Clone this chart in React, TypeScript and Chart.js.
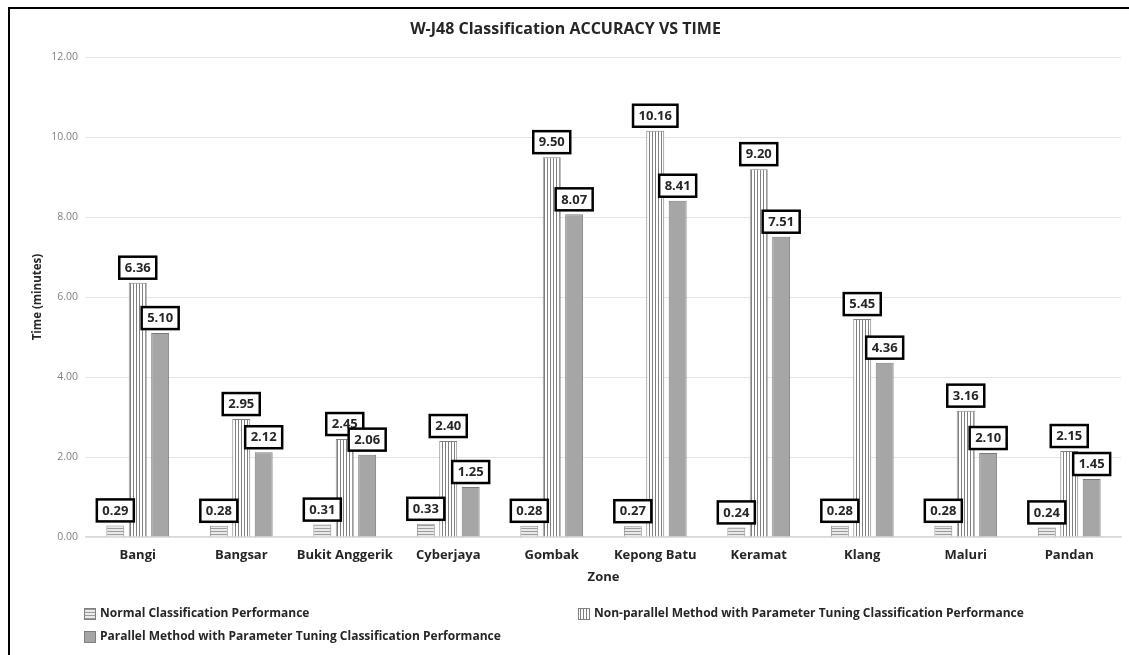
import React, { useEffect, useRef } from "react";
import { Chart, registerables } from "chart.js";

Chart.register(...registerables);

const zones = [
  "Bangi",
  "Bangsar",
  "Bukit Anggerik",
  "Cyberjaya",
  "Gombak",
  "Kepong Batu",
  "Keramat",
  "Klang",
  "Maluri",
  "Pandan",
];
const normalValues = [0.29, 0.28, 0.31, 0.33, 0.28, 0.27, 0.24, 0.28, 0.28, 0.24];
const nonParallelValues = [6.36, 2.95, 2.45, 2.4, 9.5, 10.16, 9.2, 5.45, 3.16, 2.15];
const parallelValues = [5.1, 2.12, 2.06, 1.25, 8.07, 8.41, 7.51, 4.36, 2.1, 1.45];
const seriesNames = [
  "Normal Classification Performance",
  "Non-parallel Method with Parameter Tuning Classification Performance",
  "Parallel Method with Parameter Tuning Classification Performance",
];
const chartTitle = "W-J48 Classification ACCURACY VS TIME";
const yAxisTitle = "Time (minutes)";
const xAxisTitle = "Zone";

const FONT = "'Open Sans', 'DejaVu Sans', sans-serif";
const TEXT = "#262626";

function makePattern(kind: "h" | "v"): CanvasPattern | string {
  const c = document.createElement("canvas");
  const ctx = c.getContext("2d");
  if (!ctx) return "#cccccc";
  if (kind === "h") {
    c.width = 4;
    c.height = 3;
    ctx.fillStyle = "#e9e9e9";
    ctx.fillRect(0, 0, 4, 3);
    ctx.fillStyle = "#9c9c9c";
    ctx.fillRect(0, 0, 4, 1);
  } else {
    c.width = 3;
    c.height = 4;
    ctx.fillStyle = "#ffffff";
    ctx.fillRect(0, 0, 3, 4);
    ctx.fillStyle = "#808080";
    ctx.fillRect(0, 0, 1, 4);
  }
  return ctx.createPattern(c, "repeat") || "#cccccc";
}

const labelBoxPlugin = {
  id: "labelBoxes",
  afterDatasetsDraw(chart: any) {
    const ctx = chart.ctx;
    ctx.save();
    ctx.font = `bold 13px ${FONT}`;
    ctx.textAlign = "center";
    ctx.textBaseline = "middle";
    chart.data.datasets.forEach((ds: any, di: number) => {
      const meta = chart.getDatasetMeta(di);
      meta.data.forEach((bar: any, i: number) => {
        const v = ds.data[i] as number;
        const txt = v.toFixed(2);
        const w = ctx.measureText(txt).width + 11;
        const h = 22;
        const bottom = bar.y - 4;
        const x = bar.x - w / 2;
        const y = bottom - h;
        ctx.fillStyle = "#ffffff";
        ctx.fillRect(x, y, w, h);
        ctx.lineWidth = 2.5;
        ctx.strokeStyle = "#000000";
        ctx.strokeRect(x, y, w, h);
        ctx.fillStyle = TEXT;
        ctx.fillText(txt, bar.x, y + h / 2 + 0.5);
      });
    });
    ctx.restore();
  },
};

const customLegendPlugin = {
  id: "customLegend",
  afterDraw(chart: any) {
    const ctx = chart.ctx;
    const spots = [
      { x: 74, y: 605 },
      { x: 568, y: 605 },
      { x: 74, y: 628 },
    ];
    ctx.save();
    ctx.font = `bold 12px ${FONT}`;
    ctx.textAlign = "left";
    ctx.textBaseline = "middle";
    chart.data.datasets.forEach((ds: any, di: number) => {
      const s = spots[di];
      ctx.fillStyle = ds.backgroundColor;
      ctx.fillRect(s.x, s.y - 6, 12, 12);
      ctx.lineWidth = 1;
      ctx.strokeStyle = "#7f7f7f";
      ctx.strokeRect(s.x + 0.5, s.y - 5.5, 11, 11);
      ctx.fillStyle = TEXT;
      ctx.fillText(ds.label, s.x + 16, s.y);
    });
    ctx.restore();
  },
};

export default function App() {
  const canvasRef = useRef<HTMLCanvasElement | null>(null);

  useEffect(() => {
    if (!canvasRef.current) return;
    const chart = new Chart(canvasRef.current, {
      type: "bar",
      data: {
        labels: zones,
        datasets: [
          {
            label: seriesNames[0],
            data: normalValues,
            backgroundColor: makePattern("h") as any,
            borderColor: "#8c8c8c",
            borderWidth: 1,
          },
          {
            label: seriesNames[1],
            data: nonParallelValues,
            backgroundColor: makePattern("v") as any,
            borderColor: "#7f7f7f",
            borderWidth: 1,
          },
          {
            label: seriesNames[2],
            data: parallelValues,
            backgroundColor: "#a6a6a6",
            borderColor: "#7a7a7a",
            borderWidth: 1,
          },
        ],
      },
      options: {
        responsive: false,
        animation: false,
        datasets: {
          bar: { categoryPercentage: 0.65, barPercentage: 0.8 },
        },
        layout: { padding: { left: 0, right: 8, top: 0, bottom: 58 } },
        plugins: {
          legend: { display: false },
          tooltip: { enabled: false },
          title: {
            display: true,
            text: chartTitle,
            color: TEXT,
            font: { family: FONT, size: 16, weight: "bold" },
            padding: { top: 11, bottom: 18 },
          },
        },
        scales: {
          x: {
            afterFit: (scale: any) => {
              scale.height = 60;
            },
            grid: { display: false, drawTicks: false },
            border: { display: true, color: "#d9d9d9", width: 1.5 },
            ticks: {
              color: TEXT,
              padding: 10,
              font: { family: FONT, size: 13, weight: "bold" },
              maxRotation: 0,
              autoSkip: false,
            },
            title: {
              display: true,
              text: xAxisTitle,
              color: TEXT,
              font: { family: FONT, size: 13, weight: "bold" },
              padding: { top: 0, bottom: 12 },
            },
          },
          y: {
            min: 0,
            max: 12,
            afterFit: (scale: any) => {
              scale.width = 76;
            },
            grid: { color: "#e4e4e4", lineWidth: 1, drawTicks: false },
            border: { display: false },
            ticks: {
              stepSize: 2,
              color: "#7f7f7f",
              padding: 8,
              font: { family: FONT, size: 10.5 },
              callback: (v: any) => Number(v).toFixed(2),
            },
            title: {
              display: true,
              text: yAxisTitle,
              color: TEXT,
              font: { family: FONT, size: 11.5, weight: "bold" },
              padding: { top: 21, bottom: 0 },
            },
          },
        },
      },
      plugins: [labelBoxPlugin, customLegendPlugin],
    });
    return () => chart.destroy();
  }, []);

  return (
    <div
      style={{
        position: "fixed",
        left: 8,
        top: 7,
        width: 1119,
        height: 648,
        borderLeft: "2px solid #000",
        borderTop: "2px solid #000",
        background: "#fff",
      }}
    >
      <canvas ref={canvasRef} width={1119} height={646} style={{ display: "block" }} />
    </div>
  );
}
